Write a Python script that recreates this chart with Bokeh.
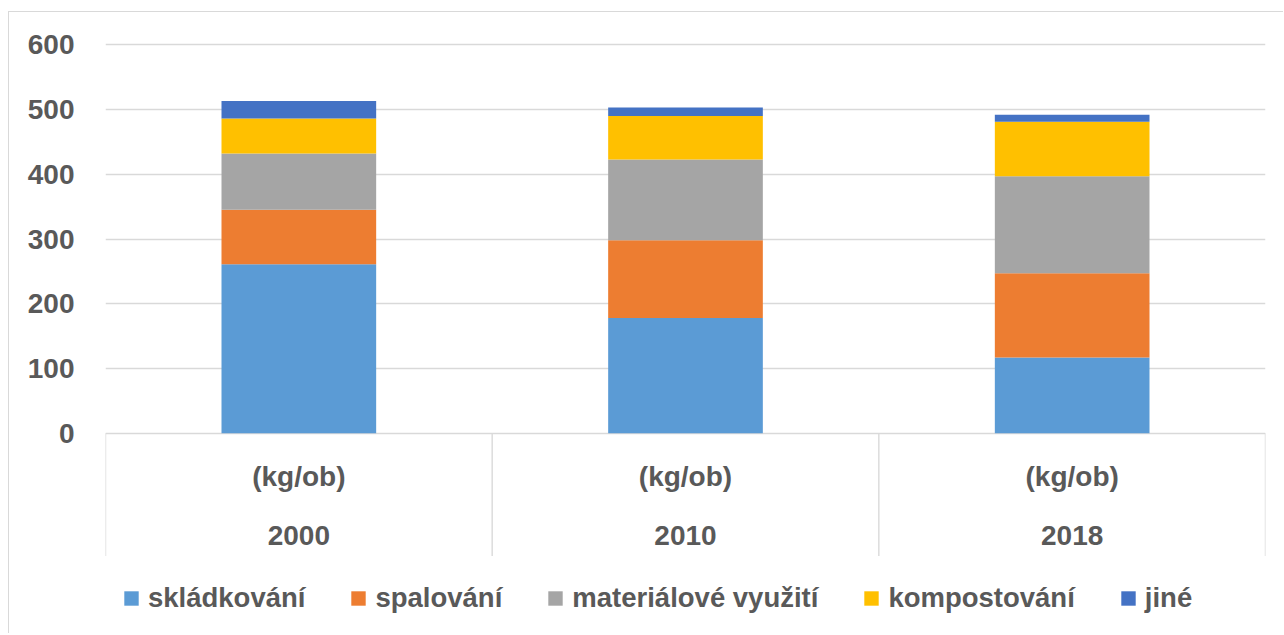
from bokeh.plotting import figure
from bokeh.models import Range1d, FixedTicker, Legend, LegendItem
from bokeh.core.properties import value
from bokeh.embed import file_html
from bokeh.resources import INLINE

# ---- data ----
years = ["2000", "2010", "2018"]
unit_label = "(kg/ob)"
series = ["skládkování", "spalování", "materiálové využití", "kompostování", "jiné"]
skladkovani = [261, 178, 117]
spalovani = [84, 120, 130]
materialove = [87, 125, 150]
kompostovani = [54, 67, 84]
jine = [27, 13, 11]
y_ticks = [0, 100, 200, 300, 400, 500, 600]
colors = ["#5B9BD5", "#ED7D31", "#A5A5A5", "#FFC000", "#4472C4"]

values = [skladkovani, spalovani, materialove, kompostovani, jine]

# ---- geometry (page pixels) ----
W, H = 1275, 622
org_x, org_y = 9, 12    # page position of canvas (css margin + 1px css border)
frame_left, frame_right = 105, 1265
frame_top = 20
frame_bottom = org_y + H
y0_px, y600_px = 432.7, 44.3
ppu = (y0_px - y600_px) / 600.0
y_start = -(frame_bottom - y0_px) / ppu
y_end = 600 + (y600_px - frame_top) / ppu

FONT = value("Liberation Sans")
TXT = "#595959"
GRID = "#d9d9d9"

p = figure(width=W, height=H, output_backend="svg", toolbar_location=None,
           x_range=Range1d(0, len(years)), y_range=Range1d(y_start, y_end),
           min_border_left=frame_left - org_x, min_border_right=org_x + W - frame_right,
           min_border_top=frame_top - org_y, min_border_bottom=0)
p.outline_line_color = None
p.background_fill_color = "white"
p.border_fill_color = "white"
p.styles = {"border-top": "1px solid #d9d9d9", "border-left": "1px solid #d9d9d9",
            "margin-top": f"{org_y - 1}px", "margin-left": f"{org_x - 1}px"}

xs = [i + 0.5 for i in range(len(years))]

# stacked bars
bottoms = [0] * len(years)
renderers = []
for name, vals, col in zip(series, values, colors):
    tops = [b + v for b, v in zip(bottoms, vals)]
    r = p.vbar(x=xs, bottom=bottoms, top=tops, width=0.4, fill_color=col, line_color=None)
    renderers.append((name, r))
    bottoms = tops

# y axis
p.yaxis.ticker = FixedTicker(ticks=y_ticks)
p.yaxis.axis_line_color = None
p.yaxis.major_tick_line_color = None
p.yaxis.minor_tick_line_color = None
p.yaxis.major_tick_out = 0
p.yaxis.major_tick_in = 0
p.yaxis.major_label_standoff = 31
p.yaxis.major_label_text_font = "Liberation Sans"
p.yaxis.major_label_text_font_style = "bold"
p.yaxis.major_label_text_font_size = "28px"
p.yaxis.major_label_text_color = TXT

p.xaxis.visible = False
p.xgrid.visible = False
p.ygrid.ticker = FixedTicker(ticks=y_ticks)
p.ygrid.grid_line_color = GRID
p.ygrid.grid_line_width = 1.4

# category axis area: separators + two label rows
sep_bottom = -(555.5 - y0_px) / ppu
sep_x = list(range(len(years) + 1))
p.segment(x0=sep_x, y0=[0] * len(sep_x), x1=sep_x, y1=[sep_bottom] * len(sep_x),
          line_color=GRID, line_width=1.4)
y_unit = -(476 - y0_px) / ppu
y_year = -(535 - y0_px) / ppu
p.text(x=xs, y=[y_unit] * len(xs), text=[unit_label] * len(xs), text_font=FONT,
       text_font_style="bold", text_font_size="28px", text_color=TXT,
       text_align="center", text_baseline="middle")
p.text(x=xs, y=[y_year] * len(xs), text=years, text_font=FONT,
       text_font_style="bold", text_font_size="28px", text_color=TXT,
       text_align="center", text_baseline="middle")

legend = Legend(items=[LegendItem(label=n, renderers=[r]) for n, r in renderers],
                orientation="horizontal", location=(122 - frame_left, frame_bottom - 597 - 17),
                glyph_width=18, glyph_height=18, label_standoff=8, spacing=44,
                padding=0, margin=0, border_line_color=None, background_fill_alpha=0,
                label_text_font="Liberation Sans", label_text_font_style="bold",
                label_text_font_size="27.5px", label_text_color=TXT)
p.add_layout(legend)

open("out.html", "w").write(file_html(p, INLINE))
